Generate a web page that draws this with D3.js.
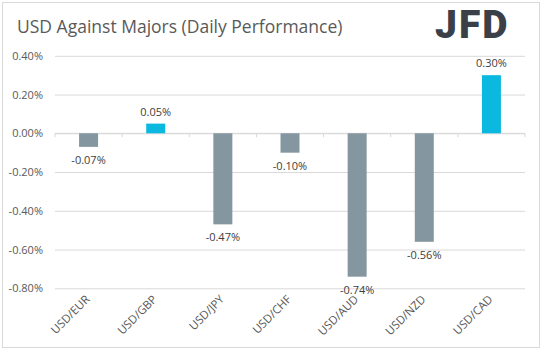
<!DOCTYPE html>
<meta charset="utf-8">
<style>
  body { margin: 0; background: #fff; }
  svg { display: block; font-family: "Open Sans", sans-serif; }
  .grid line { stroke: #d9d9d9; }
  .grid .domain { display: none; }
</style>
<body></body>
<script src="https://d3js.org/d3.v7.min.js"></script>
<script>

var pairs = ["USD/EUR", "USD/GBP", "USD/JPY", "USD/CHF", "USD/AUD", "USD/NZD", "USD/CAD"];
var change = [-0.07, 0.05, -0.47, -0.10, -0.74, -0.56, 0.30];
var yTicks = [0.4, 0.2, 0, -0.2, -0.4, -0.6, -0.8];

var width = 543, height = 351;
var plotLeft = 55, plotRight = 525, plotTop = 55.8, plotBottom = 288.3;

var svg = d3.select("body").append("svg")
    .attr("width", width)
    .attr("height", height);

svg.append("rect")
    .attr("x", 2.5).attr("y", 2.5)
    .attr("width", 537).attr("height", 345)
    .attr("fill", "#fff")
    .attr("stroke", "#d9d9d9");

svg.append("text")
    .attr("x", 17).attr("y", 33)
    .attr("fill", "#595959")
    .style("font-size", "17.5px")
    .text("USD Against Majors (Daily Performance)");

// logo
svg.append("text")
    .attr("x", 435).attr("y", 38)
    .attr("fill", "#3b4048")
    .style("font-family", "Roboto, sans-serif")
    .style("font-weight", "900")
    .style("font-size", "39px")
    .style("letter-spacing", "2px")
    .text("JFD");

var xScale = d3.scaleBand()
    .domain(pairs)
    .range([plotLeft, plotRight]);

var yScale = d3.scaleLinear()
    .domain([-0.8, 0.4])
    .range([plotBottom, plotTop]);

var fmt = function (d) { return d.toFixed(2) + "%"; };

svg.append("g")
    .attr("class", "grid")
    .attr("transform", "translate(" + plotLeft + ",0)")
    .call(d3.axisLeft(yScale).tickValues(yTicks).tickSize(-(plotRight - plotLeft)).tickFormat(""));

// y labels
svg.append("g")
  .selectAll("text")
  .data(yTicks)
  .join("text")
    .attr("x", 43)
    .attr("y", function (d) { return yScale(d) + 4; })
    .attr("text-anchor", "end")
    .attr("fill", "#595959")
    .style("font-size", "11px")
    .text(fmt);

// zero axis with separator ticks
var xAxis = svg.append("g")
    .attr("transform", "translate(0," + yScale(0) + ")");
xAxis.append("line")
    .attr("x1", plotLeft).attr("x2", plotRight)
    .attr("stroke", "#d9d9d9");
xAxis.selectAll(".sep")
  .data(d3.range(pairs.length + 1))
  .join("line")
    .attr("x1", function (i) { return plotLeft + i * xScale.step(); })
    .attr("x2", function (i) { return plotLeft + i * xScale.step(); })
    .attr("y1", 0).attr("y2", 4)
    .attr("stroke", "#d9d9d9");

var bw = 19;
svg.append("g")
  .selectAll("rect")
  .data(change)
  .join("rect")
    .attr("x", function (d, i) { return xScale(pairs[i]) + xScale.bandwidth() / 2 - bw / 2; })
    .attr("y", function (d) { return yScale(Math.max(0, d)); })
    .attr("width", bw)
    .attr("height", function (d) { return Math.abs(yScale(d) - yScale(0)); })
    .attr("fill", function (d) { return d >= 0 ? "#0bb8e0" : "#84969f"; });

svg.append("g")
  .selectAll("text")
  .data(change)
  .join("text")
    .attr("x", function (d, i) { return xScale(pairs[i]) + xScale.bandwidth() / 2; })
    .attr("y", function (d) { return d >= 0 ? yScale(d) - 8 : yScale(d) + 17; })
    .attr("text-anchor", "middle")
    .attr("fill", "#404040")
    .style("font-size", "11px")
    .text(fmt);

// category labels
svg.append("g")
  .selectAll("text")
  .data(pairs)
  .join("text")
    .attr("transform", function (d) {
      return "translate(" + (xScale(d) + xScale.bandwidth() / 2 + 2) + ",300) rotate(-45)";
    })
    .attr("text-anchor", "end")
    .attr("fill", "#595959")
    .style("font-size", "11.5px")
    .text(function (d) { return d; });

</script>
